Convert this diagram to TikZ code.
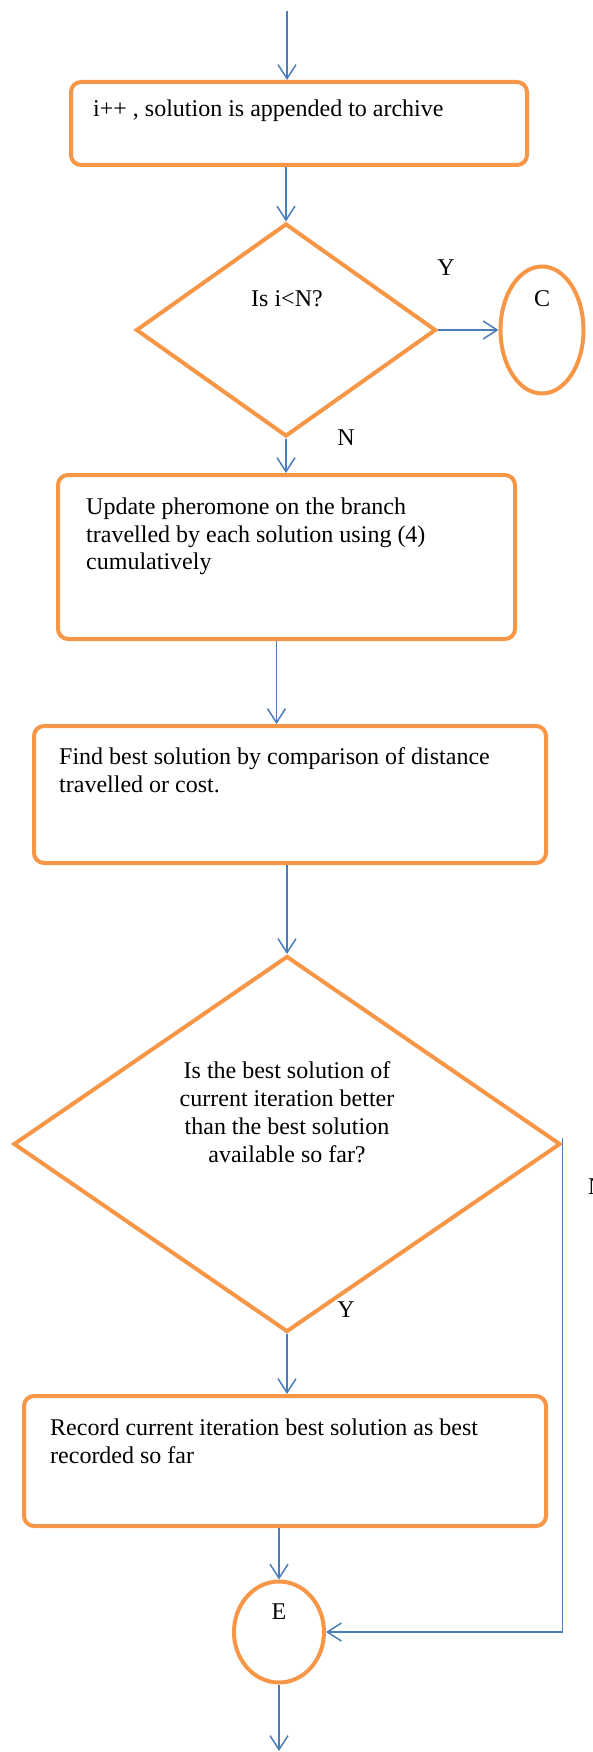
\documentclass[tikz,border=0pt]{standalone}
\usepackage{fontspec}
\setmainfont{Liberation Serif}
\usetikzlibrary{shapes.geometric,arrows.meta}
\definecolor{boxorange}{RGB}{247,150,70}
\definecolor{lineblue}{RGB}{74,126,187}

\begin{document}
\begin{tikzpicture}[
        x=1pt, y=-1pt,
        procbox/.style={rectangle, rounded corners=10pt, draw=boxorange, line width=4pt},
        decision/.style={diamond, draw=boxorange, line width=4pt, inner sep=0pt},
        connector/.style={ellipse, draw=boxorange, line width=4pt, inner sep=0pt},
        boxtext/.style={anchor=north west, align=left, inner sep=0pt, font=\fontsize{24}{27.6}\selectfont},
        asktext/.style={align=center, inner sep=0pt, font=\fontsize{24}{28}\selectfont},
        answer/.style={inner sep=0pt, font=\fontsize{24}{28}\selectfont},
        flow/.style={-{Straight Barb[length=14pt, width=18pt]}, draw=lineblue, line width=1.5pt}
    ]
    \useasboundingbox (0,0) rectangle (593,1752);

    % Boxes, decisions and connectors
    \node[procbox, minimum width=456pt, minimum height=83pt] (archive) at (299,123.5) {};
    \node[decision, minimum width=300pt, minimum height=213pt] (checkN) at (286,330) {};
    \node[connector, minimum width=83pt, minimum height=127pt] (conC) at (542,330) {};
    \node[procbox, minimum width=457pt, minimum height=164pt] (update) at (286.5,557) {};
    \node[procbox, minimum width=512pt, minimum height=137pt] (findbest) at (290,794.5) {};
    \node[decision, minimum width=547pt, minimum height=376pt] (better) at (287,1144) {};
    \node[procbox, minimum width=522pt, minimum height=130pt] (record) at (285,1461) {};
    \node[connector, minimum width=90pt, minimum height=101pt] (conE) at (279,1632) {};

    % Texts
    \node[boxtext] (archivetext) at (93,99.6) {i++ , solution is appended to archive};
    \node[asktext] (checkNtext) at (287,299) {Is i<N?};
    \node[answer] (conCtext) at (542,299) {C};
    \node[boxtext] (updatetext) at (86,497.6) {Update pheromone on the branch\\travelled by each solution using (4)\\cumulatively};
    \node[boxtext] (findbesttext) at (59,747.6) {Find best solution by comparison of distance\\travelled or cost.};
    \node[asktext, anchor=north] (bettertext) at (287,1061.6) {Is the best solution of\\current iteration better\\than the best solution\\available so far?};
    \node[boxtext] (recordtext) at (50,1418.6) {Record current iteration best solution as best\\recorded so far};
    \node[answer] (conEtext) at (279,1612) {E};

    % Answer labels
    \node[answer] (yes1) at (446,268) {Y};
    \node[answer] (no1) at (346,438) {N};
    \node[answer] (yes2) at (346,1310) {Y};
    \node[answer, anchor=west] (no2) at (588,1187) {N};

    % Free ends
    \coordinate (start) at (287,11);
    \coordinate (finish) at (279,1751);

    % Flows
    \draw[flow] (start) -- (start |- archive.north);
    \draw[flow] (checkN.north |- archive.south) -- (checkN.north);
    \draw[flow] (checkN.east) -- (conC.west);
    \draw[flow] (checkN.south) -- (checkN.south |- update.north);
    \draw[flow] ([xshift=-10pt]update.south) -- ([xshift=-10pt]update.south |- findbest.north);
    \draw[flow] (better.north |- findbest.south) -- (better.north);
    \draw[flow] (better.south) -- (better.south |- record.north);
    \draw[flow] (conE.north |- record.south) -- (conE.north);
    \draw[flow] (conE.south) -- (finish);
    \draw[flow] ([yshift=6pt]better.east) |- (conE.east);
\end{tikzpicture}
\end{document}
